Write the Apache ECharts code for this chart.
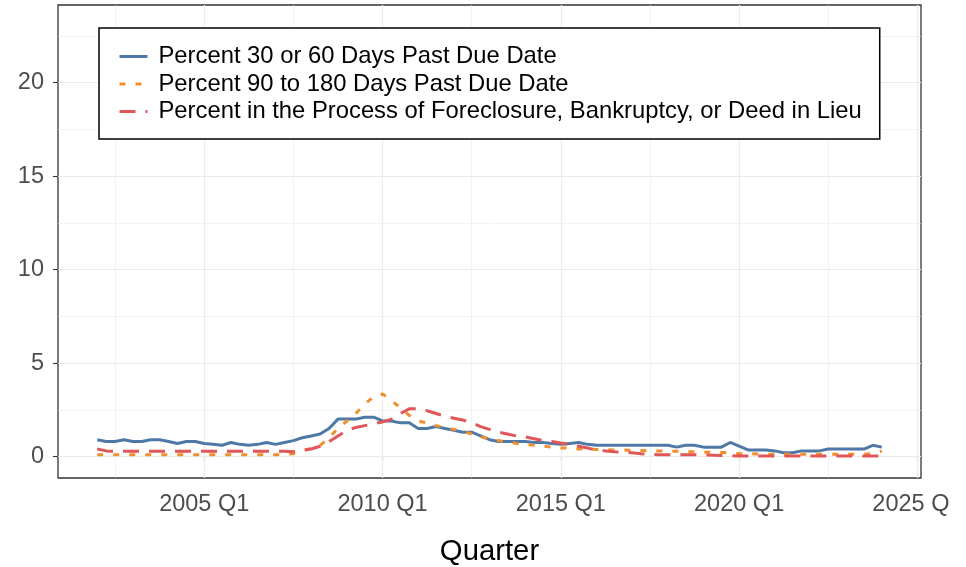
<!DOCTYPE html>
<html>
<head>
<meta charset="utf-8">
<script src="https://cdn.jsdelivr.net/npm/echarts@6/dist/echarts.min.js"></script>
<style>
html,body{margin:0;padding:0;background:#fff;}
#c{width:949px;height:567px;}
</style>
</head>
<body>
<div id="c"></div>
<script>
// Quarter labels 2002 Q1 .. 2024 Q1
const startYear = 2002, nQuarters = 89;
const quarters = [];
for (let i = 0; i < nQuarters; i++) {
  quarters.push((startYear + Math.floor(i / 4)) + ' Q' + (i % 4 + 1));
}
const seriesNames = [
  'Percent 30 or 60 Days Past Due Date',
  'Percent 90 to 180 Days Past Due Date',
  'Percent in the Process of Foreclosure, Bankruptcy, or Deed in Lieu'
];
const pct30to60 = [
  0.9,0.8,0.8,0.9,0.8,0.8,0.9,0.9,0.8,0.7,0.8,0.8,
  0.7,0.65,0.6,0.75,0.65,0.6,0.65,0.75,0.65,0.75,0.85,1.0,
  1.1,1.2,1.5,2.0,2.0,2.0,2.1,2.1,1.9,1.9,1.8,1.8,
  1.5,1.5,1.6,1.5,1.4,1.3,1.3,1.1,0.9,0.8,0.8,0.8,
  0.8,0.75,0.75,0.7,0.65,0.7,0.75,0.65,0.6,0.6,0.6,0.6,
  0.6,0.6,0.6,0.6,0.6,0.5,0.6,0.6,0.5,0.5,0.5,0.75,
  0.55,0.35,0.35,0.35,0.3,0.2,0.2,0.3,0.3,0.3,0.4,0.4,
  0.4,0.4,0.4,0.6,0.5
];
const pct90to180 = [
  0.1,0.1,0.1,0.1,0.1,0.1,0.1,0.1,0.1,0.1,0.1,0.1,
  0.1,0.1,0.1,0.1,0.1,0.1,0.1,0.1,0.1,0.1,0.15,0.3,
  0.45,0.6,1.0,1.5,1.9,2.3,2.8,3.2,3.35,3.0,2.6,2.2,
  1.9,1.8,1.65,1.55,1.45,1.35,1.2,1.05,0.95,0.85,0.78,0.7,
  0.65,0.6,0.55,0.5,0.45,0.45,0.4,0.4,0.37,0.37,0.35,0.35,
  0.33,0.32,0.3,0.3,0.28,0.28,0.25,0.25,0.23,0.23,0.22,0.22,
  0.15,0.15,0.14,0.12,0.12,0.12,0.12,0.12,0.12,0.12,0.12,0.12,
  0.12,0.12,0.12,0.15,0.3
];
const pctForeclosure = [
  0.4,0.3,0.28,0.28,0.28,0.28,0.28,0.28,0.28,0.28,0.28,0.28,
  0.28,0.28,0.28,0.28,0.28,0.28,0.28,0.28,0.28,0.28,0.25,0.33,
  0.4,0.55,0.8,1.1,1.4,1.55,1.65,1.75,1.85,2.0,2.3,2.55,
  2.55,2.45,2.3,2.15,2.05,1.95,1.8,1.6,1.45,1.3,1.2,1.1,
  1.05,0.95,0.85,0.8,0.72,0.65,0.55,0.45,0.35,0.3,0.25,0.23,
  0.2,0.15,0.12,0.1,0.1,0.1,0.1,0.1,0.08,0.07,0.05,0.05,
  0.03,0.03,0.03,0.03,0.03,0.03,0.03,0.03,0.03,0.03,0.03,0.03,
  0.03,0.03,0.03,0.03,0.03
];
const xTickYears = [2005, 2010, 2015, 2020, 2025];
const xTickLabels = ['2005 Q1', '2010 Q1', '2015 Q1', '2020 Q1', '2025 Q1'];
const xMinorYears = [2002.5, 2007.5, 2012.5, 2017.5, 2022.5];
const yTicks = [0, 5, 10, 15, 20];
const yMinor = [2.5, 7.5, 12.5, 17.5, 22.5];

function qToNum(q) {
  const p = q.split(' Q');
  return +p[0] + (+p[1] - 1) / 4;
}
function pairs(vals) { return vals.map((v, i) => [qToNum(quarters[i]), v]); }

const FONT = '"Liberation Sans", Arial, Helvetica, sans-serif';
const major = { color: '#EBEBEB', width: 1.2, type: 'solid' };
const minor = { color: '#EBEBEB', width: 0.6, type: 'solid' };
const gridLines = []
  .concat(xMinorYears.map(v => ({ xAxis: v, lineStyle: minor })))
  .concat(yMinor.map(v => ({ yAxis: v, lineStyle: minor })))
  .concat(xTickYears.map(v => ({ xAxis: v, lineStyle: major })))
  .concat(yTicks.map(v => ({ yAxis: v, lineStyle: major })));

const chart = echarts.init(document.getElementById('c'), null, { renderer: 'canvas' });
chart.setOption({
  animation: false,
  backgroundColor: '#fff',
  textStyle: { fontFamily: FONT },
  grid: { left: 58, right: 28, top: 5, bottom: 89, show: true, borderColor: '#333333', borderWidth: 1.3,
    backgroundColor: 'transparent', containLabel: false, outerBoundsMode: 'none' },
  legend: {
    data: seriesNames,
    orient: 'vertical',
    left: 99, top: 28,
    padding: [16.5, 18, 15.5, 19],
    itemGap: 3.5,
    itemWidth: 28, itemHeight: 14,
    backgroundColor: '#fff',
    borderColor: '#000', borderWidth: 1.5, borderRadius: 0,
    itemStyle: { opacity: 0, color: 'transparent', borderWidth: 0 },
    lineStyle: { width: 3 },
    textStyle: { fontSize: 23.8, color: '#000', fontFamily: FONT, lineHeight: 24, padding: [0, 0, 0, 6] }
  },
  xAxis: {
    type: 'value', min: 2000.9, max: 2025.1,
    name: 'Quarter', nameLocation: 'middle', nameGap: 59,
    nameTextStyle: { fontSize: 29.3, color: '#000', fontFamily: FONT },
    axisLine: { show: false },
    axisTick: { show: true, length: 5, lineStyle: { color: '#333333', width: 1.1 }, customValues: xTickYears },
    axisLabel: { show: true, fontSize: 23.5, color: '#4D4D4D', margin: 15, fontFamily: FONT,
      customValues: xTickYears,
      formatter: v => xTickLabels[xTickYears.indexOf(Math.round(v))] || '' },
    splitLine: { show: false }
  },
  yAxis: {
    type: 'value', min: -1.15, max: 24.15,
    axisLine: { show: false },
    axisTick: { show: true, length: 5, lineStyle: { color: '#333333', width: 1.1 }, customValues: yTicks },
    axisLabel: { show: true, fontSize: 23.5, color: '#4D4D4D', margin: 14, fontFamily: FONT, customValues: yTicks },
    splitLine: { show: false }
  },
  series: [
    { name: '_grid', type: 'line', data: [], z: 1, silent: true,
      markLine: { silent: true, z: 1, symbol: 'none', label: { show: false }, animation: false, data: gridLines } },
    { name: seriesNames[0], type: 'line', data: pairs(pct30to60), symbol: 'none', z: 3,
      color: '#4E79A7', lineStyle: { color: '#4E79A7', width: 3, type: 'solid' } },
    { name: seriesNames[1], type: 'line', data: pairs(pct90to180), symbol: 'none', z: 3,
      color: '#F28E2B', lineStyle: { color: '#F28E2B', width: 3, type: [6, 10], cap: 'butt' } },
    { name: seriesNames[2], type: 'line', data: pairs(pctForeclosure), symbol: 'none', z: 3,
      color: '#E15759', lineStyle: { color: '#E15759', width: 3, type: [16, 10], cap: 'butt' } }
  ]
});
</script>
</body>
</html>
